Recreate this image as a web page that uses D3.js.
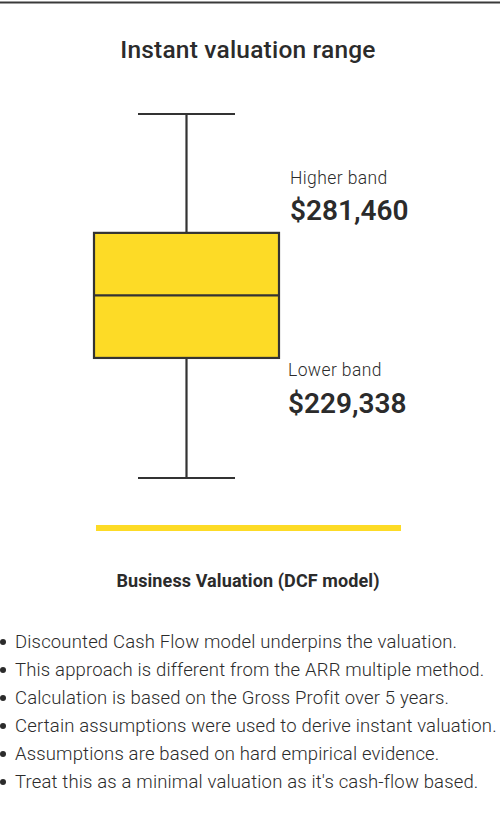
<!DOCTYPE html>
<html><head><meta charset="utf-8">
<script src="https://cdn.jsdelivr.net/npm/d3@7"></script>
<style>
html,body{margin:0;padding:0;background:#fff;}
svg{display:block;}
text{font-family:Roboto,"Noto Sans",sans-serif;fill:#2b2b2b;}
</style></head>
<body>
<svg id="chart" width="500" height="820"></svg>
<script>
const title = "Instant valuation range";
const boxStats = {min: 179300, q1: 229338, median: 255400, q3: 281460, max: 331000};
const bandLabels = ["Higher band", "Lower band"];
const bandValues = [281460, 229338];
const subtitle = "Business Valuation (DCF model)";
const bullets = [
  "Discounted Cash Flow model underpins the valuation.",
  "This approach is different from the ARR multiple method.",
  "Calculation is based on the Gross Profit over 5 years.",
  "Certain assumptions were used to derive instant valuation.",
  "Assumptions are based on hard empirical evidence.",
  "Treat this as a minimal valuation as it's cash-flow based."
];

const svg = d3.select("#chart");
const W = 500;
const dark = "#333333";
const yellow = "#FDDB26";

// top border
svg.append("line").attr("x1",0).attr("x2",W).attr("y1",2.5).attr("y2",2.5)
  .attr("stroke","#3a3a3a").attr("stroke-width",2);

svg.append("text").attr("x",248).attr("y",58).attr("text-anchor","middle")
  .attr("font-size",24.5).attr("font-weight",500).attr("letter-spacing",0.2).text(title);

const y = d3.scaleLinear().domain([boxStats.min, boxStats.max]).range([478, 114]);
const x = d3.scaleBand().domain(["DCF"]).range([94, 279]).padding(0);
const cx = x("DCF") + x.bandwidth()/2;
const capHalf = 48.5;

const g = svg.append("g");
g.append("line").attr("x1",cx).attr("x2",cx).attr("y1",y(boxStats.max)).attr("y2",y(boxStats.q3))
  .attr("stroke",dark).attr("stroke-width",2.2);
g.append("line").attr("x1",cx).attr("x2",cx).attr("y1",y(boxStats.q1)).attr("y2",y(boxStats.min))
  .attr("stroke",dark).attr("stroke-width",2.2);
[boxStats.max, boxStats.min].forEach(v=>{
  g.append("line").attr("x1",cx-capHalf).attr("x2",cx+capHalf).attr("y1",y(v)).attr("y2",y(v))
    .attr("stroke",dark).attr("stroke-width",2.2);
});
g.append("rect").attr("x",x("DCF")).attr("width",x.bandwidth())
  .attr("y",y(boxStats.q3)).attr("height",y(boxStats.q1)-y(boxStats.q3))
  .attr("fill",yellow).attr("stroke",dark).attr("stroke-width",2.2);
g.append("line").attr("x1",x("DCF")).attr("x2",x("DCF")+x.bandwidth())
  .attr("y1",y(boxStats.median)).attr("y2",y(boxStats.median))
  .attr("stroke",dark).attr("stroke-width",2.2);

const fmt = v => "$" + d3.format(",")(v);
const lx = 290;
svg.append("text").attr("x",lx).attr("y",y(bandValues[0]) - 49).attr("font-size",17.5).attr("font-weight",300)
  .attr("letter-spacing",0.4).text(bandLabels[0]);
svg.append("text").attr("x",lx).attr("y",y(bandValues[0]) - 13).attr("font-size",28).attr("font-weight",600)
  .text(fmt(bandValues[0]));
svg.append("text").attr("x",lx-2).attr("y",y(bandValues[1]) + 18).attr("font-size",17.5).attr("font-weight",300)
  .attr("letter-spacing",0.4).text(bandLabels[1]);
svg.append("text").attr("x",lx-2).attr("y",y(bandValues[1]) + 55).attr("font-size",28).attr("font-weight",600)
  .text(fmt(bandValues[1]));

svg.append("rect").attr("x",96).attr("y",525).attr("width",305).attr("height",6).attr("fill",yellow);

svg.append("text").attr("x",248).attr("y",587).attr("text-anchor","middle")
  .attr("font-size",18).attr("font-weight",700).attr("letter-spacing",0.1).text(subtitle);

const bl = svg.append("g");
bullets.forEach((t,i)=>{
  const by = 648 + i*28;
  bl.append("circle").attr("cx",3).attr("cy",by-6).attr("r",3).attr("fill","#2b2b2b");
  bl.append("text").attr("x",15).attr("y",by).attr("font-size",18.5).attr("font-weight",300)
    .attr("letter-spacing",0.16).attr("fill","#2b2b2b").text(t);
});
</script>
</body></html>
